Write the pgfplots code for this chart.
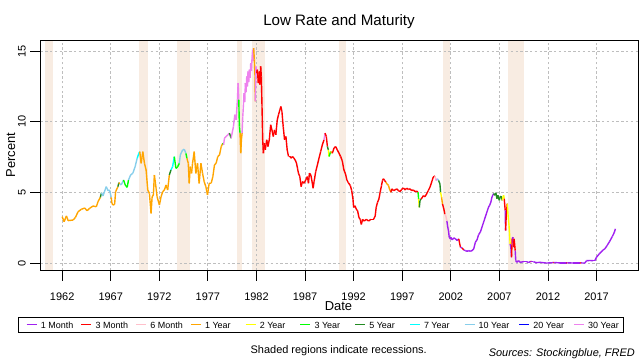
\documentclass[border=0pt]{standalone}
\usepackage{pgfplots}
\pgfplotsset{compat=1.18}
\usepackage{fontspec}
\setmainfont{Liberation Sans}
\definecolor{recess}{RGB}{248,236,226}
\definecolor{gridc}{RGB}{190,190,190}
\definecolor{colMa}{RGB}{160,32,240}
\definecolor{colMb}{RGB}{255,0,0}
\definecolor{colMc}{RGB}{255,192,203}
\definecolor{colYa}{RGB}{255,165,0}
\definecolor{colYb}{RGB}{255,255,0}
\definecolor{colYc}{RGB}{0,255,0}
\definecolor{colYd}{RGB}{34,139,34}
\definecolor{colYe}{RGB}{0,255,255}
\definecolor{colYf}{RGB}{135,206,235}
\definecolor{colYg}{RGB}{0,0,255}
\definecolor{colYh}{RGB}{238,130,238}
\begin{document}
\begin{tikzpicture}
\begin{axis}[
  at={(40.3bp,89.3bp)}, anchor=south west,
  scale only axis, width=598bp, height=230.7bp,
  xmin=1959.75, xmax=2021.3, ymin=-0.52, ymax=15.78,
  set layers,
  xtick={1962,1967,1972,1977,1982,1987,1992,1997,2002,2007,2012,2017},
  xticklabels={1962,1967,1972,1977,1982,1987,1992,1997,2002,2007,2012,2017},
  ytick={0,5,10,15}, yticklabels={0,5,10,15},
  xtick pos=left, ytick pos=left,
  tick align=outside, major tick length=10bp,
  tick style={black, line width=0.8bp},
  grid=major, major grid style={gridc, dash pattern=on 2.4bp off 2.4bp, line width=0.8bp},
  axis line style={line width=0.9bp},
  tick label style={font=\fontsize{11}{13}\selectfont},
  xticklabel style={anchor=base, yshift=-19.3bp},
  yticklabel style={xshift=-4.6bp, rotate=90, anchor=base},
  colormap={mat}{rgb255(0cm)=(160,32,240) rgb255(1cm)=(255,0,0) rgb255(2cm)=(255,192,203) rgb255(3cm)=(255,165,0) rgb255(4cm)=(255,255,0) rgb255(5cm)=(0,255,0) rgb255(6cm)=(34,139,34) rgb255(7cm)=(0,255,255) rgb255(8cm)=(135,206,235) rgb255(9cm)=(0,0,255) rgb255(10cm)=(238,130,238)},
  colormap access=direct,
]
% recessions
\addplot[fill=recess, draw=none, on layer=axis background, forget plot] coordinates {(1960.25,-0.52) (1961.08,-0.52) (1961.08,15.78) (1960.25,15.78)} -- cycle;
\addplot[fill=recess, draw=none, on layer=axis background, forget plot] coordinates {(1969.92,-0.52) (1970.87,-0.52) (1970.87,15.78) (1969.92,15.78)} -- cycle;
\addplot[fill=recess, draw=none, on layer=axis background, forget plot] coordinates {(1973.83,-0.52) (1975.2,-0.52) (1975.2,15.78) (1973.83,15.78)} -- cycle;
\addplot[fill=recess, draw=none, on layer=axis background, forget plot] coordinates {(1980.0,-0.52) (1980.53,-0.52) (1980.53,15.78) (1980.0,15.78)} -- cycle;
\addplot[fill=recess, draw=none, on layer=axis background, forget plot] coordinates {(1981.5,-0.52) (1982.87,-0.52) (1982.87,15.78) (1981.5,15.78)} -- cycle;
\addplot[fill=recess, draw=none, on layer=axis background, forget plot] coordinates {(1990.53,-0.52) (1991.2,-0.52) (1991.2,15.78) (1990.53,15.78)} -- cycle;
\addplot[fill=recess, draw=none, on layer=axis background, forget plot] coordinates {(2001.17,-0.52) (2001.87,-0.52) (2001.87,15.78) (2001.17,15.78)} -- cycle;
\addplot[fill=recess, draw=none, on layer=axis background, forget plot] coordinates {(2007.92,-0.52) (2009.5,-0.52) (2009.5,15.78) (2007.92,15.78)} -- cycle;
% lowest rate, colored by maturity
\addplot[mesh, shader=flat corner, point meta=explicit, line width=1.4bp, forget plot] table[x=x, y=y, meta=c] {
x y c
1962.00 3.30 3
1962.20 2.94 3
1962.44 3.35 3
1962.61 3.02 3
1963.13 3.06 3
1963.37 3.25 3
1963.64 3.65 3
1963.98 3.82 3
1964.32 3.91 3
1964.56 3.72 3
1964.83 3.89 3
1965.18 4.05 3
1965.52 4.00 3
1965.69 4.36 3
1965.93 4.66 6
1966.05 4.99 8
1966.20 4.76 8
1966.54 5.42 8
1966.71 5.14 8
1966.88 5.18 8
1967.05 4.66 3
1967.12 4.24 3
1967.23 4.12 3
1967.40 4.17 3
1967.50 5.06 3
1967.74 5.42 6
1967.84 5.70 3
1967.94 5.61 8
1968.08 5.54 8
1968.32 5.89 5
1968.49 5.54 5
1968.69 5.37 5
1968.83 5.89 8
1969.04 6.24 8
1969.27 6.36 8
1969.51 6.83 8
1969.72 7.42 7
1969.89 7.77 7
1969.99 7.89 3
1970.13 7.07 3
1970.30 7.89 3
1970.47 7.07 3
1970.64 6.60 3
1970.81 5.18 3
1970.98 4.95 3
1971.15 3.53 3
1971.26 4.71 3
1971.39 4.83 3
1971.49 6.24 3
1971.67 5.30 3
1971.77 4.71 3
1972.01 4.12 3
1972.18 4.71 3
1972.35 5.06 3
1972.52 5.18 3
1972.69 5.54 3
1972.86 5.18 3
1973.03 6.24 6
1973.20 6.60 7
1973.37 6.83 7
1973.54 7.54 5
1973.71 6.71 5
1973.89 6.83 5
1974.06 7.07 8
1974.16 7.66 8
1974.40 8.01 8
1974.57 8.06 8
1974.74 7.77 5
1974.84 7.42 3
1974.98 7.07 3
1975.08 5.65 3
1975.18 6.83 3
1975.32 6.36 3
1975.42 7.07 3
1975.59 7.89 3
1975.76 6.36 3
1975.93 7.07 3
1976.10 5.65 3
1976.28 7.07 3
1976.45 6.36 3
1976.62 5.77 3
1976.79 5.42 3
1976.96 4.83 3
1977.13 5.65 3
1977.34 5.66 3
1977.51 6.13 3
1977.68 6.96 3
1977.85 7.08 3
1978.02 7.55 3
1978.20 7.67 3
1978.37 8.25 3
1978.54 8.49 5
1978.61 8.37 10
1978.71 8.84 10
1978.88 8.96 10
1979.05 9.08 10
1979.22 9.20 6
1979.39 8.84 10
1979.46 9.08 10
1979.63 9.67 10
1979.77 10.50 10
1979.90 10.14 10
1980.04 11.56 10
1980.11 12.74 10
1980.18 11.56 5
1980.24 9.67 5
1980.31 9.20 3
1980.38 7.78 3
1980.45 8.73 3
1980.52 9.20 10
1980.59 10.38 10
1980.66 11.20 10
1980.72 12.03 10
1980.79 11.40 10
1980.86 12.74 10
1980.93 12.10 10
1981.00 13.21 10
1981.07 12.50 10
1981.13 13.56 10
1981.20 12.80 10
1981.27 13.68 10
1981.34 13.10 10
1981.41 14.15 10
1981.48 13.60 10
1981.55 14.62 10
1981.61 15.09 10
1981.66 14.30 10
1981.71 15.21 3
1981.78 14.39 3
1981.85 13.21 3
1981.88 11.44 10
1981.95 13.92 10
1982.02 13.44 1
1982.09 13.68 1
1982.19 12.74 1
1982.29 13.56 1
1982.36 12.62 1
1982.43 13.92 1
1982.50 13.21 1
1982.57 11.08 1
1982.64 8.73 1
1982.71 7.78 1
1982.81 8.49 1
1982.91 8.02 1
1983.05 8.73 1
1983.18 8.25 1
1983.32 8.73 1
1983.46 9.79 1
1983.59 9.43 1
1983.73 8.96 1
1983.86 9.43 1
1983.99 9.08 1
1984.14 10.14 1
1984.27 10.50 1
1984.41 10.85 1
1984.51 11.08 1
1984.62 10.73 1
1984.75 9.67 1
1984.89 8.73 1
1985.03 8.96 1
1985.16 8.02 1
1985.30 7.55 1
1985.44 7.55 1
1985.57 7.43 1
1985.71 7.55 1
1985.85 7.43 1
1985.98 7.31 1
1986.12 7.08 1
1986.22 6.72 1
1986.32 6.37 1
1986.46 6.13 1
1986.60 5.42 1
1986.73 5.78 1
1986.90 5.66 1
1987.07 5.90 1
1987.25 6.13 1
1987.35 5.66 1
1987.45 6.37 1
1987.59 6.25 1
1987.69 5.90 1
1987.83 5.31 1
1987.93 5.78 1
1988.10 6.49 1
1988.27 6.96 1
1988.44 7.43 1
1988.61 7.90 1
1988.78 8.37 1
1988.95 8.73 10
1989.06 9.20 1
1989.19 8.96 1
1989.30 8.25 6
1989.40 8.02 4
1989.47 7.55 5
1989.64 7.90 3
1989.81 7.78 1
1989.98 8.14 1
1990.15 8.25 1
1990.32 8.02 1
1990.49 7.78 1
1990.66 7.55 1
1990.83 7.25 1
1991.00 6.60 1
1991.17 6.30 1
1991.30 5.90 1
1991.45 5.70 1
1991.66 5.50 1
1991.80 5.14 1
1991.93 4.55 1
1992.00 3.95 1
1992.14 4.07 1
1992.27 3.83 1
1992.41 3.71 1
1992.55 3.23 1
1992.68 3.11 1
1992.79 2.75 1
1992.92 3.11 1
1993.09 2.99 1
1993.30 3.11 1
1993.54 2.99 1
1993.78 3.11 1
1994.05 3.11 1
1994.22 3.35 1
1994.32 3.95 1
1994.46 4.31 1
1994.60 4.55 1
1994.73 5.02 1
1994.87 5.50 1
1994.97 5.86 1
1995.07 5.98 1
1995.18 5.86 1
1995.31 5.74 3
1995.42 5.62 3
1995.59 5.50 3
1995.69 5.26 3
1995.83 5.02 1
1995.93 5.26 1
1996.10 5.14 1
1996.27 5.19 1
1996.44 5.26 1
1996.61 5.14 1
1996.78 5.07 1
1996.95 5.22 1
1997.12 5.33 1
1997.29 5.19 1
1997.46 5.31 1
1997.64 5.22 1
1997.81 5.26 1
1997.98 5.14 1
1998.15 5.19 1
1998.32 5.07 1
1998.49 5.10 1
1998.63 5.02 5
1998.69 4.55 4
1998.76 3.95 6
1998.83 4.43 6
1998.93 4.55 1
1999.04 4.62 1
1999.17 4.78 1
1999.34 4.71 1
1999.51 4.90 1
1999.68 5.14 1
1999.86 5.38 1
2000.03 5.74 1
2000.20 6.10 1
2000.37 6.17 2
2000.47 5.86 10
2000.61 5.98 8
2000.74 5.86 6
2000.88 5.62 6
2000.95 5.02 4
2001.05 4.67 3
2001.15 4.19 1
2001.29 3.83 1
2001.39 3.47 2
2001.49 3.35 2
2001.60 2.99 0
2001.67 2.63 0
2001.77 2.27 0
2001.84 1.84 0
2001.97 1.72 0
2002.00 1.85 0
2002.14 1.66 0
2002.31 1.80 0
2002.48 1.73 0
2002.65 1.61 0
2002.82 1.73 1
2002.99 1.14 0
2003.16 1.09 1
2003.33 0.95 0
2003.50 0.90 0
2003.67 0.85 0
2003.84 0.90 0
2004.01 0.85 0
2004.19 0.90 0
2004.36 1.02 0
2004.53 1.49 0
2004.70 1.66 0
2004.87 2.04 0
2005.04 2.20 0
2005.21 2.56 0
2005.38 2.91 0
2005.55 3.27 0
2005.72 3.63 0
2005.89 3.98 0
2006.00 4.10 0
2006.13 4.34 0
2006.24 4.69 0
2006.41 4.93 6
2006.54 4.81 6
2006.64 4.98 6
2006.75 4.57 6
2006.85 4.81 6
2006.99 4.45 6
2007.09 4.69 6
2007.19 4.74 6
2007.29 4.45 4
2007.43 4.81 4
2007.50 4.57 1
2007.60 3.74 0
2007.64 2.32 1
2007.70 3.27 1
2007.81 4.22 4
2007.91 3.27 4
2007.98 2.80 4
2008.05 2.09 4
2008.11 1.37 0
2008.18 1.14 0
2008.25 0.43 1
2008.32 1.73 1
2008.39 1.85 0
2008.45 1.14 1
2008.52 1.73 1
2008.63 0.90 0
2008.69 0.19 0
2008.80 0.07 0
2008.97 0.19 0
2009.14 0.07 0
2009.48 0.12 0
2009.82 0.12 0
2009.99 0.05 0
2010.23 0.14 1
2010.30 0.12 0
2010.50 0.12 0
2010.78 0.05 0
2011.19 0.07 0
2011.87 0.02 0
2012.55 0.05 1
2012.62 0.06 0
2013.24 0.03 0
2013.92 0.03 1
2014.00 0.04 0
2014.60 0.02 0
2015.29 0.02 1
2015.40 0.03 0
2015.80 0.02 0
2015.97 0.19 0
2016.31 0.20 0
2016.65 0.19 0
2016.82 0.19 0
2017.00 0.43 0
2017.33 0.71 0
2017.68 0.95 0
2017.85 1.02 0
2018.09 1.26 0
2018.36 1.56 0
2018.63 1.90 0
2018.84 2.20 0
2018.94 2.44 0
};
\end{axis}
% legend
\draw[black, line width=0.8bp] (18.3bp,27.7bp) rectangle (623.3bp,42.3bp);
\foreach \col/\lab [count=\i from 0] in {colMa/1 Month, colMb/3 Month, colMc/6 Month, colYa/1 Year, colYb/2 Year, colYc/3 Year, colYd/5 Year, colYe/7 Year, colYf/10 Year, colYg/20 Year, colYh/30 Year}{
  \pgfmathsetmacro{\xa}{26.7+54.73*\i}
  \pgfmathsetmacro{\xb}{36.7+54.73*\i}
  \pgfmathsetmacro{\xc}{40.7+54.73*\i}
  \draw[\col, line width=1bp] (\xa bp,35bp) -- (\xb bp,35bp);
  \node[anchor=base west, inner sep=0pt, font=\fontsize{9}{10}\selectfont] at (\xc bp,31.6bp) {\lab};
}
\node[anchor=base, font=\fontsize{15.2}{18}\selectfont] at (339bp,334bp) {Low Rate and Maturity};
\node[anchor=base, font=\fontsize{13}{15}\selectfont] at (338.5bp,49.3bp) {Date};
\node[rotate=90, anchor=base, font=\fontsize{13}{15}\selectfont] at (15bp,205bp) {Percent};
\node[anchor=base, font=\fontsize{11}{13}\selectfont] at (338.7bp,6.7bp) {Shaded regions indicate recessions.};
\node[anchor=base east, font=\fontsize{11}{13}\selectfont\itshape] at (638.3bp,4bp) {Sources: Stockingblue, FRED};
\pgfresetboundingbox
\path[use as bounding box] (0,0) rectangle (640bp,360bp);
\end{tikzpicture}
\end{document}
